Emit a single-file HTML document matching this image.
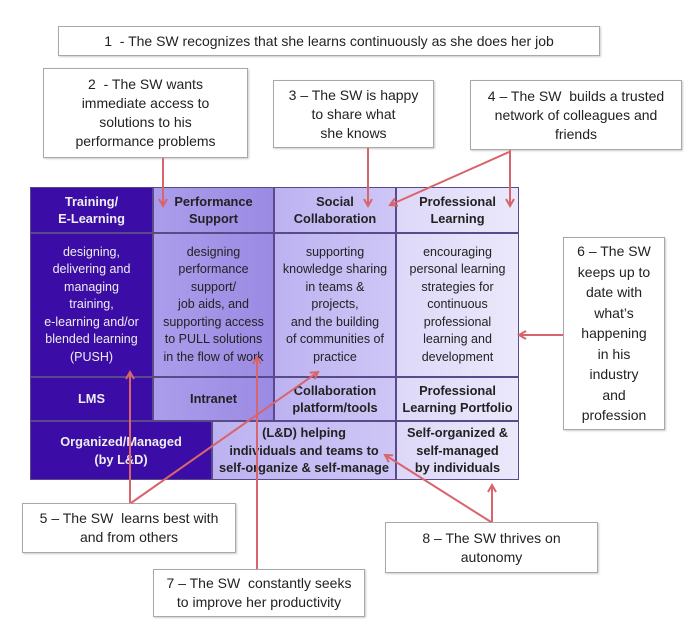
<!DOCTYPE html>
<html><head><meta charset="utf-8"><style>
*{margin:0;padding:0;box-sizing:border-box}
body{width:694px;height:619px;background:#fff;position:relative;overflow:hidden;font-family:"Liberation Sans",sans-serif}
.b{position:absolute;background:#fff;border:1px solid #a8a8a8;box-shadow:1px 1px 2px rgba(0,0,0,.2);display:flex;align-items:center;justify-content:center;text-align:center;font-size:14px;line-height:19px;color:#222}
.c{position:absolute;display:flex;align-items:center;justify-content:center;text-align:center;border:1px solid #5a4a8a;font-size:12.5px;line-height:17.5px;color:#222}
.h{font-weight:bold;font-size:12.8px}
.d{background:#3b0ca6;color:#eee}
.p{background:linear-gradient(90deg,#ab9deb,#9b8ae3)}
.s{background:linear-gradient(90deg,#bdb2f1,#cec6f6)}
.f{background:linear-gradient(90deg,#ddd8f8,#ebe8fb)}
svg{position:absolute;left:0;top:0}
</style></head><body>
<div class="b" style="left:58px;top:26px;width:542px;height:30px">1&nbsp; - The SW recognizes that she learns continuously as she does her job</div>
<div class="b" style="left:43px;top:68px;width:205px;height:90px">2&nbsp; - The SW wants<br>immediate access to<br>solutions to his<br>performance problems</div>
<div class="b" style="left:273px;top:80px;width:161px;height:68px">3 – The SW is happy<br>to share what<br>she knows</div>
<div class="b" style="left:470px;top:80px;width:212px;height:70px">4 – The SW&nbsp; builds a trusted<br>network of colleagues and<br>friends</div>
<div class="b" style="left:563px;top:237px;width:102px;height:193px;line-height:20.5px">6 – The SW<br>keeps up to<br>date with<br>what’s<br>happening<br>in his<br>industry<br>and<br>profession</div>
<div class="b" style="left:22px;top:503px;width:214px;height:50px">5 – The SW&nbsp; learns best with<br>and from others</div>
<div class="b" style="left:153px;top:569px;width:212px;height:48px">7 – The SW&nbsp; constantly seeks<br>to improve her productivity</div>
<div class="b" style="left:385px;top:522px;width:213px;height:51px">8 – The SW thrives on<br>autonomy</div>

<div class="c d h" style="left:30px;top:187px;width:123px;height:46px">Training/<br>E-Learning</div>
<div class="c p h" style="left:153px;top:187px;width:121px;height:46px">Performance<br>Support</div>
<div class="c s h" style="left:274px;top:187px;width:122px;height:46px">Social<br>Collaboration</div>
<div class="c f h" style="left:396px;top:187px;width:123px;height:46px">Professional<br>Learning</div>
<div class="c d" style="left:30px;top:233px;width:123px;height:144px">designing,<br>delivering and<br>managing<br>training,<br>e-learning and/or<br>blended learning<br>(PUSH)</div>
<div class="c p" style="left:153px;top:233px;width:121px;height:144px">designing<br>performance<br>support/<br>job aids, and<br>supporting access<br>to PULL solutions<br>in the flow of work</div>
<div class="c s" style="left:274px;top:233px;width:122px;height:144px">supporting<br>knowledge sharing<br>in teams &amp;<br>projects,<br>and the building<br>of communities of<br>practice</div>
<div class="c f" style="left:396px;top:233px;width:123px;height:144px">encouraging<br>personal learning<br>strategies for<br>continuous<br>professional<br>learning and<br>development</div>
<div class="c d h" style="left:30px;top:377px;width:123px;height:44px">LMS</div>
<div class="c p h" style="left:153px;top:377px;width:121px;height:44px">Intranet</div>
<div class="c s h" style="left:274px;top:377px;width:122px;height:44px">Collaboration<br>platform/tools</div>
<div class="c f h" style="left:396px;top:377px;width:123px;height:44px">Professional<br>Learning Portfolio</div>
<div class="c d h" style="left:30px;top:421px;width:182px;height:59px">Organized/Managed<br>(by L&amp;D)</div>
<div class="c s h" style="left:212px;top:421px;width:184px;height:59px">(L&amp;D) helping<br>individuals and teams to<br>self-organize &amp; self-manage</div>
<div class="c f h" style="left:396px;top:421px;width:123px;height:59px">Self-organized &amp;<br>self-managed<br>by individuals</div>

<svg width="694" height="619" viewBox="0 0 694 619">
<defs><marker id="a" markerWidth="10" markerHeight="10" refX="8" refY="5" orient="auto" markerUnits="userSpaceOnUse"><path d="M1,1 L8,5 L1,9" fill="none" stroke="#d8646c" stroke-width="2"/></marker></defs>
<g stroke="#d8646c" stroke-width="2" fill="none" marker-end="url(#a)">
<line x1="163" y1="158" x2="163" y2="206"/>
<line x1="368" y1="148" x2="368" y2="206"/>
<line x1="510" y1="150" x2="510" y2="206"/>
<line x1="509" y1="152" x2="390" y2="205"/>
<line x1="563" y1="335" x2="519" y2="335"/>
<line x1="130" y1="503" x2="130" y2="372"/>
<line x1="131" y1="503" x2="318" y2="372"/>
<line x1="257" y1="569" x2="257" y2="357"/>
<line x1="492" y1="522" x2="492" y2="485"/>
<line x1="491" y1="522" x2="385" y2="455"/>
</g></svg>
</body></html>
